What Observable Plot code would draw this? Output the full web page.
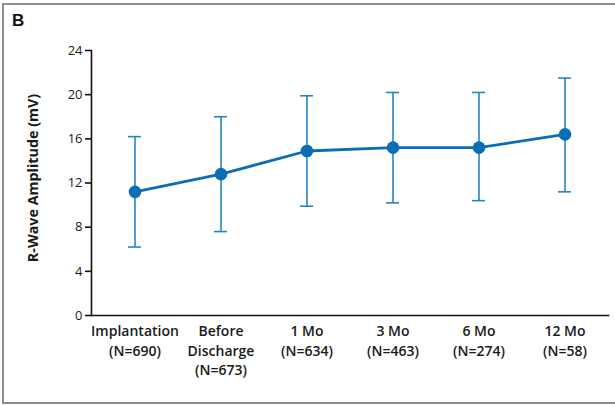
<!DOCTYPE html>
<html>
<head>
<meta charset="utf-8">
<script src="https://cdn.jsdelivr.net/npm/d3@7"></script>
<script src="https://cdn.jsdelivr.net/npm/@observablehq/plot@0.6"></script>
<style>
  html, body { margin: 0; padding: 0; background: #fff; }
  #wrap { position: relative; width: 615px; height: 405px; overflow: hidden; }
  #border { position: absolute; left: 2px; top: 3px; width: 640px; height: 397px;
            border-top: 2px solid #8e8e8e; border-left: 2px solid #8e8e8e; border-bottom: 2px solid #8e8e8e; }
  #panel { position: absolute; left: 12px; top: 11px; font: bold 17px "Liberation Sans", Arial, sans-serif; color: #111; }
  #chart { position: absolute; left: 0; top: 0; }
</style>
</head>
<body>
<div id="wrap">
  <div id="border"></div>
  <div id="chart"></div>
  <div id="panel">B</div>
</div>
<script>
const categories = ["Implantation", "Before Discharge", "1 Mo", "3 Mo", "6 Mo", "12 Mo"];
const tickLabels = ["Implantation\n(N=690)", "Before\nDischarge\n(N=673)", "1 Mo\n(N=634)", "3 Mo\n(N=463)", "6 Mo\n(N=274)", "12 Mo\n(N=58)"];
const meanValues = [11.2, 12.8, 14.9, 15.2, 15.2, 16.4];
const upperValues = [16.2, 18.0, 19.9, 20.2, 20.2, 21.5];
const lowerValues = [6.2, 7.6, 9.9, 10.2, 10.4, 11.2];
const yTicks = [0, 4, 8, 12, 16, 20, 24];
const yLabel = "R-Wave Amplitude (mV)";

const data = categories.map((c, i) => ({cat: c, mean: meanValues[i], hi: upperValues[i], lo: lowerValues[i]}));
const labelOf = new Map(categories.map((c, i) => [c, tickLabels[i]]));

const lineColor = "#0b6db5";
const barColor = "#2586c6";

const chart = Plot.plot({
  width: 615,
  height: 405,
  marginLeft: 91,
  marginRight: 7,
  marginTop: 50,
  marginBottom: 90,
  style: {fontFamily: "'Open Sans', Lato, sans-serif", background: "transparent", color: "#1a1a1a"},
  x: {type: "band", domain: categories, paddingInner: 0.85, paddingOuter: 0.425},
  y: {domain: [0, 24]},
  marks: [
    Plot.frame({anchor: "left", stroke: "#111", strokeWidth: 1.6}),
    Plot.frame({anchor: "bottom", stroke: "#111", strokeWidth: 1.6}),
    Plot.axisY({ticks: yTicks, tickSize: 6, tickPadding: 3, fontSize: 13, stroke: "#111", strokeWidth: 1.6, label: null}),
    Plot.axisX({tickSize: 0, tickPadding: 7, fontSize: 14, fontWeight: 600, lineHeight: 1.38,
      tickFormat: d => labelOf.get(d), label: null}),
    Plot.text([yLabel], {frameAnchor: "left", text: d => d, rotate: -90, dx: -58, dy: -5,
      textAnchor: "middle", lineAnchor: "middle",
      fontFamily: "'Open Sans', sans-serif", fontWeight: 700, fontSize: 14.3, fill: "#1a1a1a"}),
    Plot.ruleX(data, {x: "cat", y1: "lo", y2: "hi", stroke: barColor, strokeWidth: 1.6}),
    Plot.tickY(data, {x: "cat", y: "hi", stroke: barColor, strokeWidth: 1.6}),
    Plot.tickY(data, {x: "cat", y: "lo", stroke: barColor, strokeWidth: 1.6}),
    Plot.line(data, {x: "cat", y: "mean", stroke: lineColor, strokeWidth: 2.8}),
    Plot.dot(data, {x: "cat", y: "mean", r: 6.3, fill: lineColor})
  ]
});
document.getElementById("chart").appendChild(chart);
</script>
</body>
</html>
